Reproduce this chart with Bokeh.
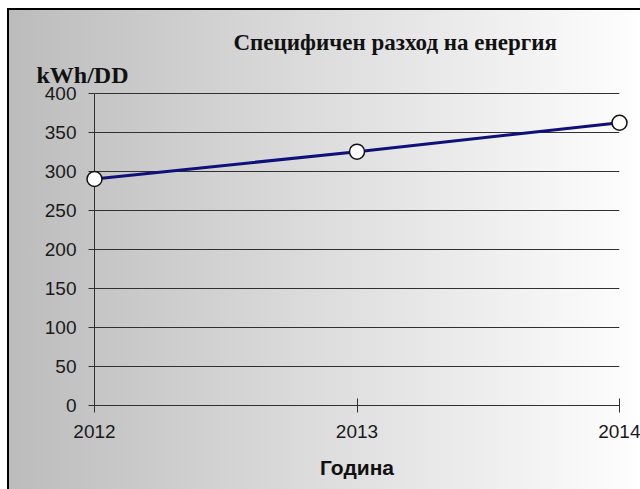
from bokeh.plotting import figure
from bokeh.models import Range1d, FixedTicker, Title
from bokeh.embed import file_html
from bokeh.resources import INLINE

# Specific energy consumption per degree-day, by year
years = [2012, 2013, 2014]
consumption = [290, 325, 362]

x_ticks = [2012, 2013, 2014]
y_ticks = [0, 50, 100, 150, 200, 250, 300, 350, 400]

title_text = "Специфичен разход на енергия"
y_title = "kWh/DD"
x_title = "Година"

p = figure(
    width=640, height=489,
    x_range=Range1d(2012, 2014), y_range=Range1d(0, 402),
    output_backend="svg", toolbar_location=None,
    min_border_left=94, min_border_right=21,
    min_border_top=91, min_border_bottom=84,
)

# transparent canvas; the grey-to-white panel with its frame is painted by CSS
p.background_fill_alpha = 0
p.border_fill_alpha = 0
p.outline_line_color = None
p.styles = {
    "background-color": "#ffffff",
    "background-image": "linear-gradient(#000000,#000000), linear-gradient(#000000,#000000), "
                        "linear-gradient(to right, #bcbcbc, #ffffff)",
    "background-position": "7px 8px, 7px 8px, 9px 10px",
    "background-size": "2px 100%, 100% 2px, 100% 100%",
    "background-repeat": "no-repeat",
}

tick_font = "Liberation Sans"

# x axis
xa = p.xaxis[0]
xa.ticker = FixedTicker(ticks=x_ticks)
xa.major_tick_in = 7
xa.major_tick_out = 7
xa.minor_tick_line_color = None
xa.axis_line_color = "#303030"
xa.major_tick_line_color = "#303030"
xa.major_label_text_font = tick_font
xa.major_label_text_font_size = "19px"
xa.major_label_text_color = "#1a1a1a"
xa.major_label_standoff = 12
xa.axis_label = x_title
xa.axis_label_text_font = tick_font
xa.axis_label_text_font_style = "bold"
xa.axis_label_text_font_size = "21px"
xa.axis_label_text_color = "#111111"
xa.axis_label_standoff = 15

# y axis
ya = p.yaxis[0]
ya.ticker = FixedTicker(ticks=y_ticks)
ya.bounds = (0, 400)
ya.major_tick_in = 0
ya.major_tick_out = 6
ya.minor_tick_line_color = None
ya.axis_line_color = "#303030"
ya.major_tick_line_color = "#303030"
ya.major_label_text_font = tick_font
ya.major_label_text_font_size = "19px"
ya.major_label_text_color = "#1a1a1a"
ya.major_label_standoff = 12

p.xgrid.visible = False
p.ygrid.ticker = FixedTicker(ticks=y_ticks)
p.ygrid.grid_line_color = "#303030"
p.ygrid.grid_line_width = 1

# series: drawn above the frame clip so the end markers stay whole
p.line(years, consumption, line_color="#10107a", line_width=3, level="overlay")
p.scatter(years, consumption, size=15, fill_color="white", line_color="#111111",
          line_width=1.5, level="overlay")

# unit caption sits just above the frame, main heading above it
p.add_layout(Title(text=y_title, align="left", offset=-58, standoff=7,
                   text_font="Liberation Serif", text_font_style="bold",
                   text_font_size="24px", text_color="#111111"), "above")
p.add_layout(Title(text=title_text, align="left", offset=139, standoff=4,
                   text_font="Liberation Serif", text_font_style="bold",
                   text_font_size="23px", text_color="#111111"), "above")

open("out.html", "w").write(file_html(p, INLINE))
